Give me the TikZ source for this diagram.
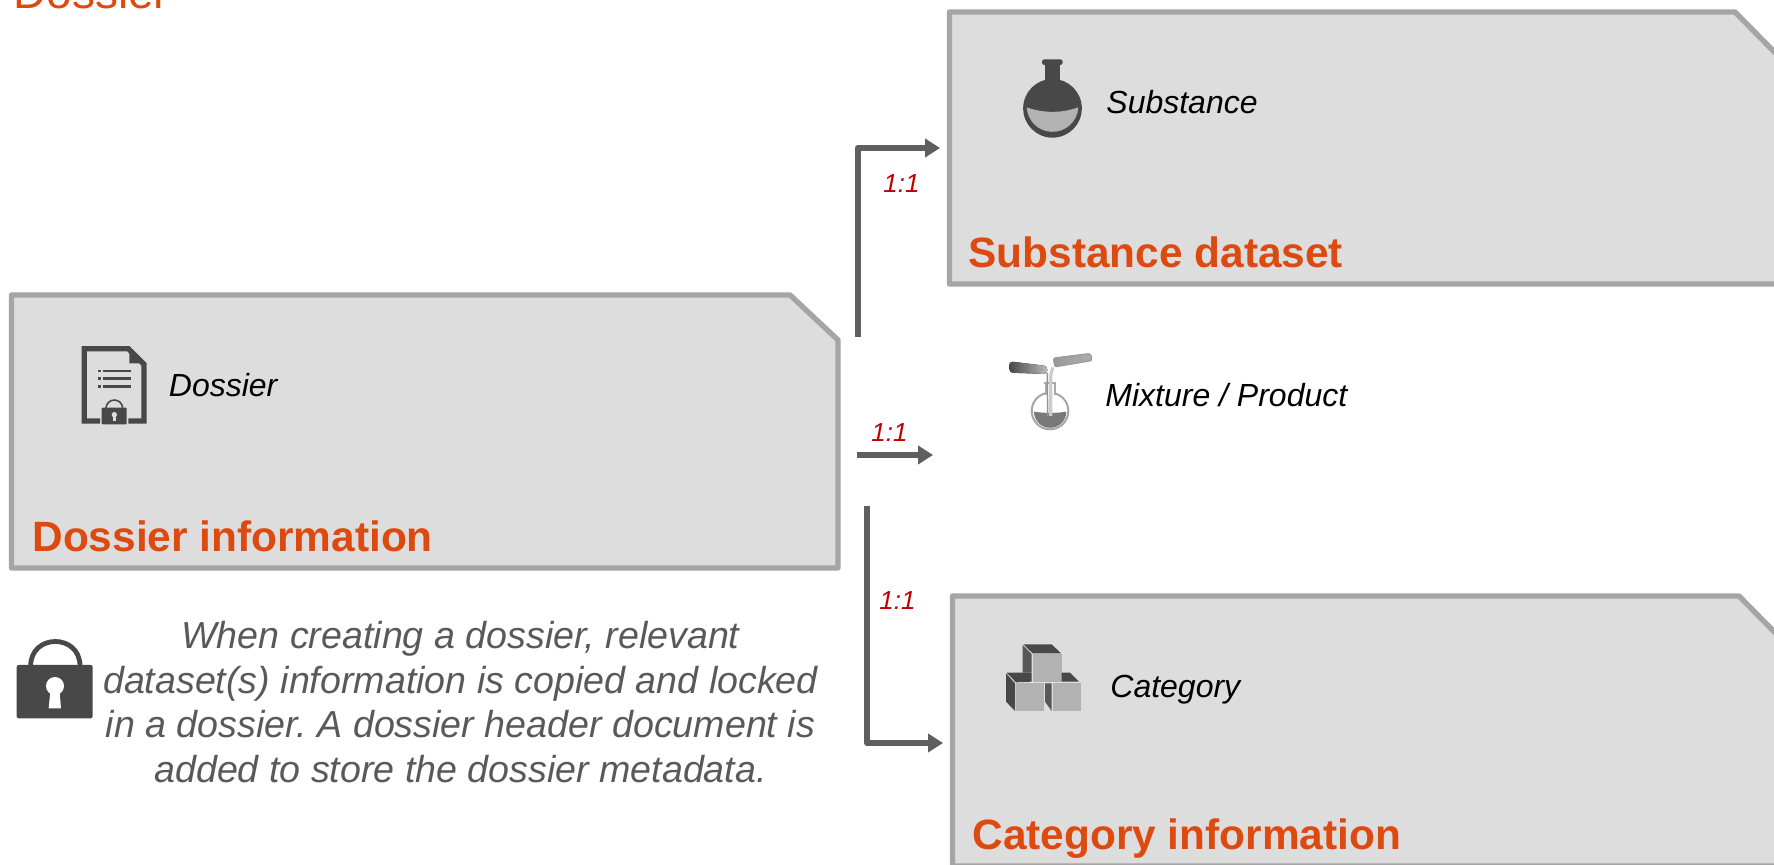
\documentclass[tikz,border=0pt]{standalone}
\usepackage{fontspec}
\setmainfont{Liberation Sans}
\usetikzlibrary{arrows.meta}
\definecolor{boxfill}{HTML}{DDDDDD}
\definecolor{boxline}{HTML}{A5A5A5}
\definecolor{orangetxt}{HTML}{DC4A0F}
\definecolor{arrowc}{HTML}{5F5F5F}
\definecolor{icond}{HTML}{484848}
\definecolor{iconm}{HTML}{585858}
\definecolor{iconl}{HTML}{B2B2B2}
\definecolor{redtxt}{HTML}{C00000}
\definecolor{greytxt}{HTML}{595959}
\tikzset{
  panel/.style={fill=boxfill,draw=boxline,line width=2.7pt,line join=round},
  heading/.style={anchor=base west,inner sep=0pt,text=orangetxt,font=\fontsize{21.2}{25}\selectfont\bfseries},
  caption/.style={anchor=base west,inner sep=0pt,text=black,font=\fontsize{16}{19}\selectfont\itshape},
  ratio/.style={anchor=base west,inner sep=0pt,text=redtxt,font=\fontsize{13}{15}\selectfont\itshape},
  flowtip/.style={-{Triangle[length=7.5pt,width=9pt]}},
  flow/.style={draw=arrowc,line width=2.8pt,line join=round,flowtip},
  flowshade/.style={draw=black,opacity=.13,line width=2.8pt,line join=round,flowtip},
  iconscale/.style={x=0.16667pt,y=-0.16667pt}
}
\begin{document}
\begin{tikzpicture}[x=0.5pt,y=-0.5pt]
\useasboundingbox (0,0) rectangle (1774,865);
\clip (0,0) rectangle (1774,865);

% panels
\draw[panel] (11.5,295) -- (790,295) -- (838,340) -- (838,568) -- (11.5,568) -- cycle;
\draw[panel] (949.5,12) -- (1735,12) -- (1800,78) -- (1800,284) -- (949.5,284) -- cycle;
\draw[panel] (952.5,596) -- (1739,596) -- (1800,658) -- (1800,866) -- (952.5,866) -- cycle;

% title and headings
\node[anchor=base west,inner sep=0pt,text=orangetxt,font=\fontsize{23}{27}\selectfont] (title) at (13,9) {Dossier};
\node[heading] (h1) at (32,552) {Dossier information};
\node[heading] (h2) at (968,268) {Substance dataset};
\node[heading] (h3) at (972,850) {Category information};

% captions
\node[caption] (c1) at (168.5,396.5) {Dossier};
\node[caption] (c2) at (1106,113.5) {Substance};
\node[caption] (c3) at (1105,406.5) {Mixture / Product};
\node[caption] (c4) at (1110,697.5) {Category};

% ratios
\node[ratio] (r1) at (883,193) {1:1};
\node[ratio] (r2) at (871,442) {1:1};
\node[ratio] (r3) at (879,610) {1:1};

% note
\node[anchor=north,inner sep=0pt,align=center,text=greytxt,font=\fontsize{18.8}{22.25}\selectfont\itshape\frenchspacing] (note) at (460.5,621)
  {When creating a dossier, relevant\\dataset(s) information is copied and locked\\in a dossier. A dossier header document is\\added to store the dossier metadata.};

% connectors
\coordinate (a1s) at (857.7,337);
\coordinate (a1e) at (940,148);
\coordinate (a2s) at (857,455);
\coordinate (a2e) at (933,455);
\coordinate (a3s) at (867,506);
\coordinate (a3e) at (943,743);
\begin{scope}[shift={(2,3)}]
\draw[flowshade] (a1s) |- (a1e);
\draw[flowshade] (a2s) -- (a2e);
\draw[flowshade] (a3s) |- (a3e);
\end{scope}
\draw[flow] (a1s) |- (a1e);
\draw[flow] (a2s) -- (a2e);
\draw[flow] (a3s) |- (a3e);

% dossier icon
\begin{scope}[shift={(0,280)},iconscale]
\draw[icond,line width=2.6pt,line join=miter] (300,423) -- (253,423) -- (253,206) -- (385,206) -- (432,253) -- (432,423) -- (385,423);
\fill[icond] (388,200) -- (440,250) -- (388,250) -- cycle;
\foreach \yy in {273,296,320}{
  \fill[icond] (293,\yy-4) rectangle (302,\yy+4);
  \fill[icond] (308,\yy-4) rectangle (392,\yy+4);
}
\draw[icond,line width=.8pt] (318,385) arc[start angle=180,end angle=360,radius=25];
\fill[icond,rounded corners=.5pt] (305,383) rectangle (380,433);
\fill[boxfill] (343,404) circle[radius=8];
\fill[boxfill] (339,406) rectangle (347,423);
\end{scope}

% substance flask
\begin{scope}[shift={(980,30)},iconscale]
\fill[icond] (195,95) rectangle (240,165);
\fill[icond,rounded corners=1.2pt] (186,88) rectangle (248,105);
\fill[icond] (217.5,235) circle[radius=88];
\fill[iconl] (140,232) .. controls (190,250) and (245,250) .. (295,232) arc[start angle=3,end angle=177,radius=77.6] -- cycle;
\end{scope}

% mixture icon
\begin{scope}[shift={(980,340)},iconscale]
\fill[white] (210,213) circle[radius=54];
\draw[gray!70,line width=1pt] (210,213) circle[radius=55];
\fill[gray!95!black] (162,215) .. controls (190,220) and (230,220) .. (259,215) arc[start angle=0,end angle=180,radius=48.5] -- cycle;
\fill[white] (197,128) rectangle (225,165);
\draw[gray!70,line width=.9pt] (198,165) -- (198,130) (224,165) -- (224,130);
\draw[gray!70,line width=1pt] (193,128) -- (229,128);
\draw[gray!40,line width=1.6pt] (218,82) -- (212,108) -- (212,228);
\draw[gray!85,line width=.7pt] (202,98) -- (203,228);
\fill[left color=icond,right color=gray!55,rounded corners=1.8pt] (88,64) -- (202,78) -- (202,102) -- (88,98) -- cycle;
\shade[left color=gray!80,middle color=white,right color=gray!65,rounded corners=1pt] (220,54) -- (332,40) -- (336,62) -- (224,81) -- cycle;
\draw[gray!80,line width=.5pt,rounded corners=1pt] (220,54) -- (332,40) -- (336,62) -- (224,81) -- cycle;
\end{scope}

% category cubes
\begin{scope}[shift={(980,630)},iconscale]
\fill[icond] (130,43) -- (215,43) -- (243,70) -- (158,70) -- cycle;
\fill[iconm] (128,45) -- (155,72) -- (155,128) -- (128,128) -- cycle;
\fill[iconl] (158,72) rectangle (245,155);
\fill[icond] (80,128) -- (155,128) -- (155,155) -- (108,157) -- cycle;
\fill[icond] (78,130) -- (105,160) -- (105,243) -- (78,215) -- cycle;
\fill[iconl] (108,160) rectangle (192,243);
\fill[icond] (245,128) -- (270,128) -- (297,155) -- (245,155) -- cycle;
\fill[iconm] (195,160) -- (215,160) -- (215,243) -- (195,215) -- cycle;
\fill[iconl] (218,160) rectangle (302,243);
\end{scope}

% big lock
\begin{scope}[shift={(0,620)},iconscale]
\draw[icond,line width=2.4pt] (92,138) .. controls (92,40) and (240,40) .. (240,138);
\fill[icond,rounded corners=1pt] (50,135) rectangle (278,295);
\fill[white] (165,198) circle[radius=27];
\fill[white] (152,205) -- (178,205) -- (183,265) -- (146,265) -- cycle;
\end{scope}
\end{tikzpicture}
\end{document}
